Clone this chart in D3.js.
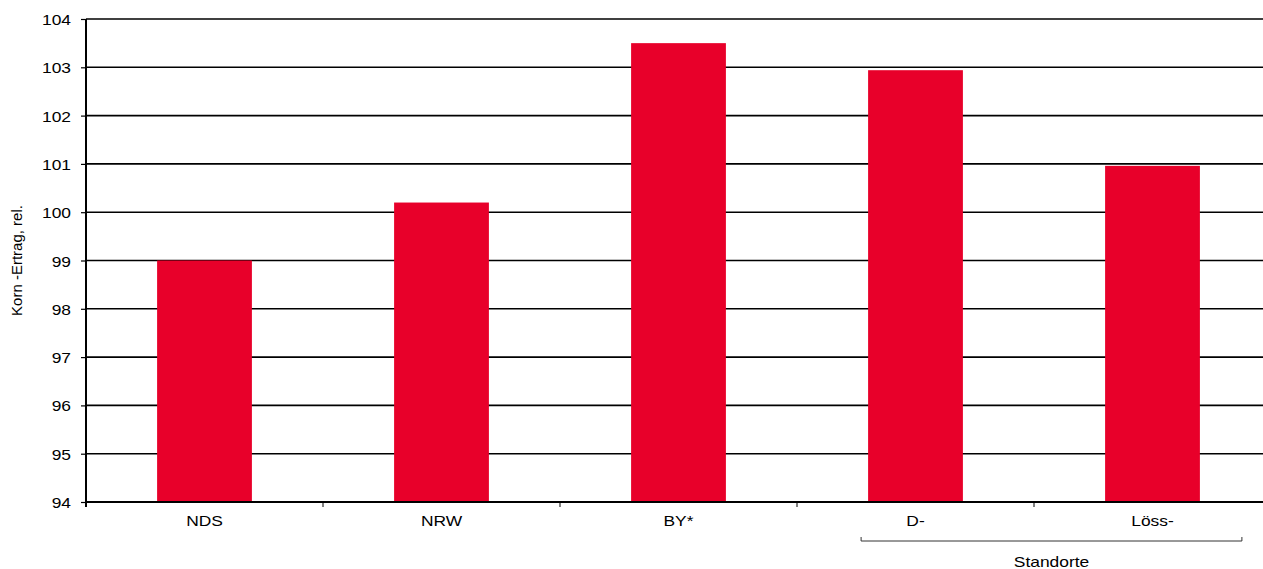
<!DOCTYPE html>
<html lang="de">
<head>
  <meta charset="UTF-8">
  <title>Korn-Ertrag</title>
  <style>
    body { margin: 0; background: #fff; }
    svg { display: block; font-family: Arial, "Liberation Sans", sans-serif; }
  </style>
</head>
<body>
  <svg class="bar-chart"></svg>
  <script src="https://cdn.jsdelivr.net/npm/d3@7"></script>
  <script>
    let categories = ['NDS', 'NRW', 'BY*', 'D-', 'Löss-']
    let values = [99.0, 100.2, 103.5, 102.94, 100.96]
    let yTicks = [94, 95, 96, 97, 98, 99, 100, 101, 102, 103, 104]

    let svgWidth = 1263, svgHeight = 569
    let plotLeft = 86, plotTop = 19, plotBottom = 502, plotRight = 1271
    let fontSize = 15, stretch = 1.16  // the original text is a bit wider than tall

    let svg = d3.select('svg')
      .attr('width', svgWidth)
      .attr('height', svgHeight)

    let x = d3.scaleBand()
      .domain(categories)
      .range([plotLeft, plotRight])
      .paddingInner(0.6)
      .paddingOuter(0.3)

    let y = d3.scaleLinear()
      .domain([94, 104])
      .range([plotBottom, plotTop])

    // gridlines
    svg.append('g')
      .selectAll('line')
      .data(yTicks)
      .enter()
      .append('line')
      .attr('x1', plotLeft)
      .attr('x2', plotRight)
      .attr('y1', d => y(d))
      .attr('y2', d => y(d))
      .attr('stroke', '#000')
      .attr('stroke-width', 1.6)

    // bars
    svg.append('g')
      .selectAll('rect')
      .data(values)
      .enter()
      .append('rect')
      .attr('x', (d, i) => x(categories[i]))
      .attr('width', x.bandwidth())
      .attr('y', d => y(d))
      .attr('height', d => y(94) - y(d))
      .attr('fill', '#e8002a')

    // y axis
    let yAxis = svg.append('g')
      .attr('transform', `translate(${plotLeft},0)`)
      .call(d3.axisLeft(y).tickValues(yTicks).tickSize(5).tickFormat(d3.format('d')))
    yAxis.select('.domain').attr('stroke-width', 2).attr('d', `M0,${plotTop}V${plotBottom + 5}`)
    yAxis.selectAll('.tick line').attr('stroke-width', 1.2)
    yAxis.selectAll('.tick text')
      .attr('x', null).attr('dy', null)
      .attr('transform', `translate(-15,5.5) scale(${stretch},1)`)
      .attr('font-size', fontSize).attr('font-family', 'Arial, "Liberation Sans", sans-serif')
      .attr('fill', '#000')

    // x axis: ticks between categories
    let boundaries = d3.range(1, categories.length).map(i => plotLeft + i * (plotRight - plotLeft) / categories.length)
    svg.append('line')
      .attr('x1', plotLeft).attr('x2', plotRight)
      .attr('y1', plotBottom).attr('y2', plotBottom)
      .attr('stroke', '#000').attr('stroke-width', 2)
    svg.append('g')
      .selectAll('line')
      .data(boundaries)
      .enter()
      .append('line')
      .attr('x1', d => d).attr('x2', d => d)
      .attr('y1', plotBottom).attr('y2', plotBottom + 5)
      .attr('stroke', '#000').attr('stroke-width', 1)

    svg.append('g')
      .selectAll('text')
      .data(categories)
      .enter()
      .append('text')
      .attr('transform', d => `translate(${x(d) + x.bandwidth() / 2},${plotBottom + 24}) scale(${stretch},1)`)
      .attr('text-anchor', 'middle')
      .attr('font-size', fontSize)
      .text(d => d)

    // bracket "Standorte"
    let bx1 = x('D-') - 7, bx2 = x('Löss-') + x.bandwidth() + 42
    svg.append('path')
      .attr('d', `M${bx1},537V541H${bx2}V537`)
      .attr('fill', 'none')
      .attr('stroke', '#333')
      .attr('stroke-width', 1)
    svg.append('text')
      .attr('transform', `translate(${(bx1 + bx2) / 2},567) scale(${stretch},1)`)
      .attr('text-anchor', 'middle')
      .attr('font-size', fontSize)
      .text('Standorte')

    // y label
    svg.append('text')
      .attr('transform', `translate(22,${(plotTop + plotBottom) / 2}) rotate(-90)`)
      .attr('text-anchor', 'middle')
      .attr('font-size', fontSize)
      .text('Korn -Ertrag, rel.')
  </script>
</body>
</html>
